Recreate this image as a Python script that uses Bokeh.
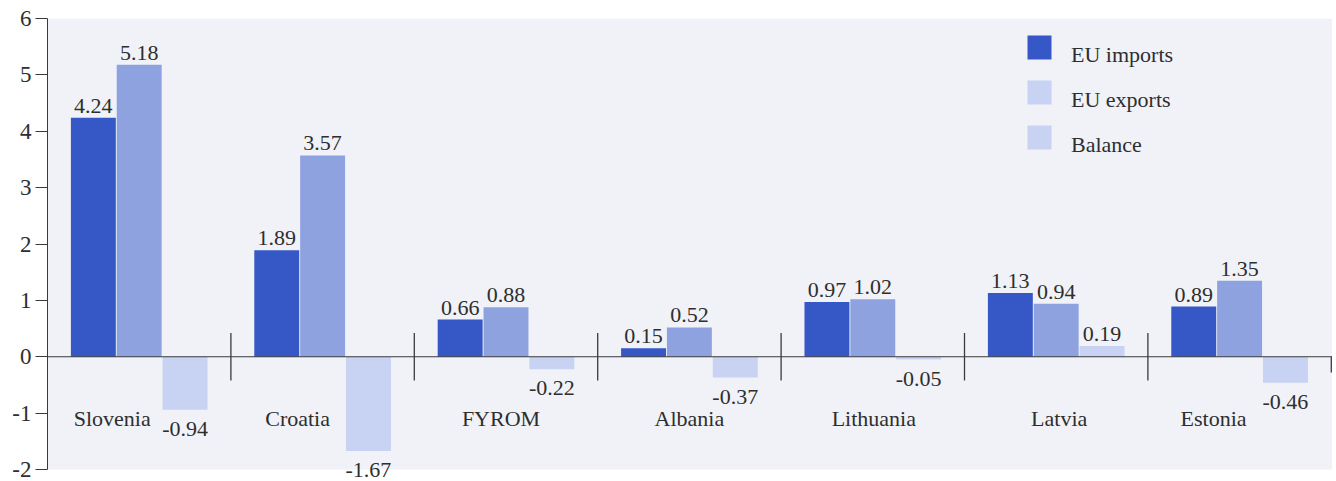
from bokeh.plotting import figure
from bokeh.models import (ColumnDataSource, Range1d, FixedTicker, LabelSet, Legend,
                          LegendItem, Span, PrintfTickFormatter, BoxAnnotation)
from bokeh.embed import file_html
from bokeh.resources import INLINE

# ---- data ----
countries = ["Slovenia", "Croatia", "FYROM", "Albania", "Lithuania", "Latvia", "Estonia"]
eu_imports = [4.24, 1.89, 0.66, 0.15, 0.97, 1.13, 0.89]
eu_exports = [5.18, 3.57, 0.88, 0.52, 1.02, 0.94, 1.35]
balance = [-0.94, -1.67, -0.22, -0.37, -0.05, 0.19, -0.46]
y_ticks = [-2, -1, 0, 1, 2, 3, 4, 5, 6]
series_names = ["EU imports", "EU exports", "Balance"]

# ---- style ----
FONT = "Liberation Serif"
FS = "22px"
TICK_FS = "23px"
TXT = "#2e2e2e"
AX = "#3a3a3a"
C_IMP = "#3657c6"
C_EXP = "#8ea2e0"
C_BAL = "#c8d2f3"
BG = "#f0f2f8"
BW = 0.245
OFFS = [-0.25, 0.0, 0.25]
CAT_NUDGE_PX = [-27, -25, -5, 0, 1, 3, -26]   # layout nudges of the country names

n = len(countries)
centers = [i + 0.5 for i in range(n)]

W, H = 1332, 481
LEFT, TOP, BOTTOM = 47, 18, 1
GROUP_PX = 183.4
Y_PX = 56.375            # pixels per unit on the y scale
Y_LO, Y_HI = y_ticks[0], y_ticks[-1]
EXTRA = 11 / Y_PX        # room under the axis for the lowest value label

p = figure(width=W, height=H, output_backend="svg", toolbar_location=None,
           x_range=Range1d(0, (W - LEFT) / GROUP_PX),
           y_range=Range1d(Y_LO - EXTRA, Y_HI),
           x_axis_type=None, min_border_left=LEFT, min_border_right=0,
           min_border_top=TOP, min_border_bottom=BOTTOM)
p.background_fill_color = "white"
p.border_fill_color = "white"
p.outline_line_color = None
p.grid.visible = False
p.add_layout(BoxAnnotation(bottom=Y_LO, top=Y_HI, fill_color=BG, fill_alpha=1,
                           line_color=None, level="underlay"))

yax = p.yaxis[0]
yax.bounds = (Y_LO, Y_HI)
yax.ticker = FixedTicker(ticks=y_ticks)
yax.formatter = PrintfTickFormatter(format="%d")
yax.major_tick_out = 12
yax.major_tick_in = 0
yax.minor_tick_line_color = None
yax.axis_line_color = AX
yax.major_tick_line_color = AX
yax.major_label_standoff = 4
yax.major_label_text_font = FONT
yax.major_label_text_font_size = TICK_FS
yax.major_label_text_color = TXT

series = [eu_imports, eu_exports, balance]
colors = [C_IMP, C_EXP, C_BAL]
renderers = []
pos_src = dict(x=[], y=[], t=[])
neg_src = dict(x=[], y=[], t=[])
for vals, off, col in zip(series, OFFS, colors):
    xs = [c + off for c in centers]
    r = p.vbar(x=xs, top=vals, bottom=0, width=BW, fill_color=col, line_color=None)
    renderers.append(r)
    for x, v in zip(xs, vals):
        d = pos_src if v >= 0 else neg_src
        d["x"].append(x)
        d["y"].append(v)
        d["t"].append(f"{v:.2f}")

# zero line
p.add_layout(Span(location=0, dimension="width", line_color=AX, line_width=1.2))
# group separators
seps = list(range(1, n))
p.segment(x0=seps, y0=[-0.42] * len(seps), x1=seps, y1=[0.42] * len(seps),
          line_color=AX, line_width=1.3)
p.segment(x0=[n], y0=[0], x1=[n], y1=[-0.28], line_color=AX, line_width=1.3)

# value labels
p.add_layout(LabelSet(x="x", y="y", text="t", source=ColumnDataSource(pos_src),
                      text_align="center", text_baseline="bottom", y_offset=5,
                      text_font=FONT, text_font_size=FS, text_color=TXT))
p.add_layout(LabelSet(x="x", y="y", text="t", source=ColumnDataSource(neg_src),
                      text_align="center", text_baseline="middle", y_offset=-19,
                      text_font=FONT, text_font_size=FS, text_color=TXT))

# category labels
for c, name, dx in zip(centers, countries, CAT_NUDGE_PX):
    src = ColumnDataSource(dict(x=[c], y=[-1.104], t=[name]))
    p.add_layout(LabelSet(x="x", y="y", text="t", source=src, x_offset=dx,
                          text_align="center", text_baseline="middle",
                          text_font=FONT, text_font_size=FS, text_color=TXT))

# legend: swatches and texts in two layers, texts sitting a little lower than swatches
# (the exports swatch is light in the original, like balance)
leg_r = [renderers[0], renderers[2], renderers[2]]
frame_bottom = H - BOTTOM
legend_sw = Legend(items=[LegendItem(label=" ", renderers=[r]) for r in leg_r],
                   location=(1024 - LEFT - 0, frame_bottom - 152), orientation="vertical",
                   glyph_width=30, glyph_height=30, spacing=15, padding=0, margin=0,
                   label_standoff=0, label_width=0, label_text_font_size="2px",
                   border_line_color=None, background_fill_alpha=0)
legend_tx = Legend(items=[LegendItem(label=s, renderers=[r]) for s, r in zip(series_names, leg_r)],
                   location=(1071 - LEFT, frame_bottom - 160), orientation="vertical",
                   glyph_width=0, glyph_height=30, spacing=15, padding=0, margin=0,
                   label_standoff=0, label_text_font=FONT, label_text_font_size=FS,
                   label_text_color=TXT, border_line_color=None, background_fill_alpha=0)
p.add_layout(legend_sw)
p.add_layout(legend_tx)

open("out.html", "w").write(file_html(p, INLINE))
